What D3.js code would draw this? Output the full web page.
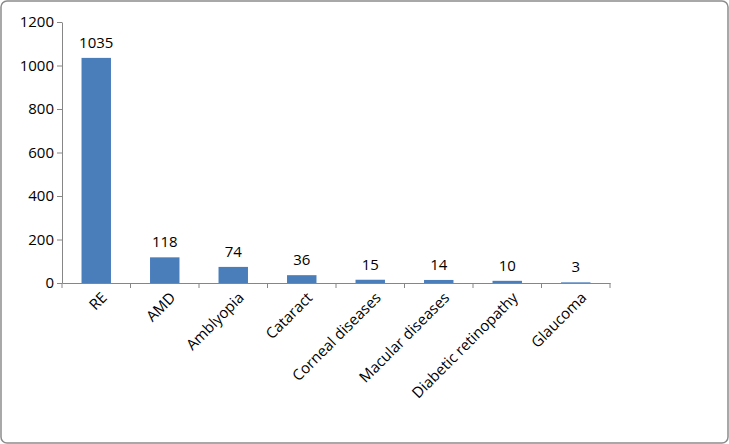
<!DOCTYPE html><html><head><meta charset="utf-8">
<script src="https://cdn.jsdelivr.net/npm/d3@7"></script>
<style>body{margin:0;background:#fff}</style></head><body>
<svg id="c" width="729" height="444"></svg>
<script>
const categories=["RE","AMD","Amblyopia","Cataract","Corneal diseases","Macular diseases","Diabetic retinopathy","Glaucoma"];
const values=[1035,118,74,36,15,14,10,3];
const yTicks=[0,200,400,600,800,1000,1200];
const svg=d3.select("#c");
svg.append("rect").attr("x",1).attr("y",1).attr("width",727).attr("height",442).attr("rx",6).attr("fill","#fff").attr("stroke","#8c8c8c").attr("stroke-width",1.5);
const x=d3.scaleBand().domain(categories).range([62,610]).paddingInner(0.57).paddingOuter(0.285);
const y=d3.scaleLinear().domain([0,1200]).range([283,22]);
const font="'Open Sans', 'Liberation Sans', Arial, sans-serif";
const ya=svg.append("g").attr("transform","translate(62,0)").call(d3.axisLeft(y).tickValues(yTicks).tickFormat(d3.format("d")).tickSize(5).tickSizeOuter(0));
ya.selectAll("text").attr("font-size",15).attr("font-family",font).attr("fill","#000");
ya.selectAll("line,path").attr("stroke","#868686");
const xa=svg.append("g").attr("transform","translate(0,283)").call(d3.axisBottom(x).tickSize(5).tickSizeOuter(0));
xa.selectAll("line,path").attr("stroke","#868686");
xa.selectAll(".tick line").remove();
categories.concat([null]).forEach((c,i)=>{const px=62+i*(548/8);svg.append("line").attr("x1",px).attr("x2",px).attr("y1",283).attr("y2",288).attr("stroke","#868686");});
xa.selectAll("text").attr("font-size",15).attr("font-family",font).attr("fill","#000")
  .attr("text-anchor","end").attr("dy","0").attr("transform","translate(6,10) rotate(-45)");
svg.selectAll(".bar").data(values).join("rect").attr("x",(d,i)=>x(categories[i])).attr("width",x.bandwidth())
  .attr("y",d=>y(d)).attr("height",d=>283-y(d)).attr("fill","#4a7ebb");
svg.selectAll(".lbl").data(values).join("text").attr("x",(d,i)=>x(categories[i])+x.bandwidth()/2).attr("y",d=>y(d)-10)
  .attr("text-anchor","middle").attr("font-size",15).attr("font-family",font).text(d=>d);
</script></body></html>
